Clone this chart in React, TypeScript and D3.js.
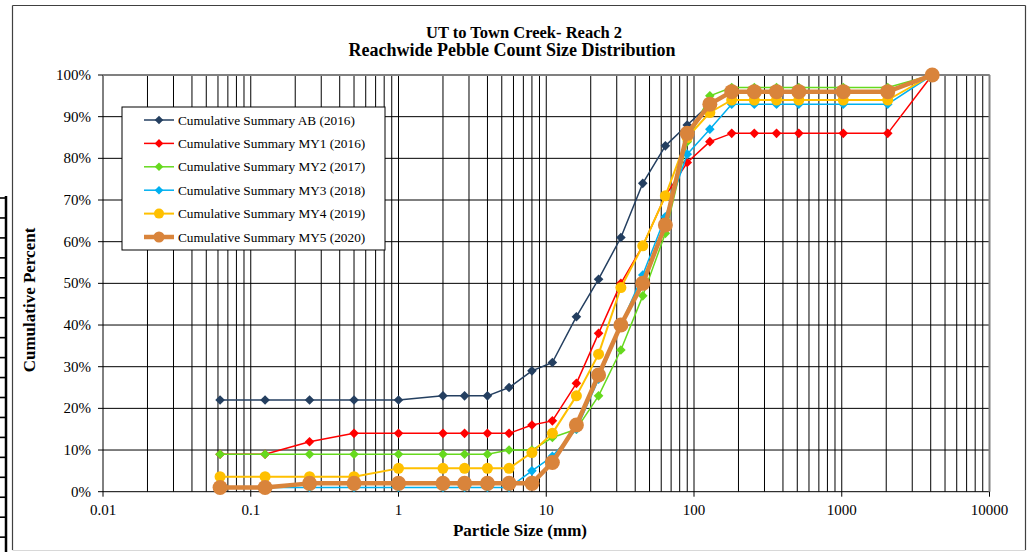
import React from "react";
import * as d3 from "d3";

const sizes = [0.062, 0.125, 0.25, 0.5, 1, 2, 2.8, 4, 5.6, 8, 11, 16, 22.6, 32, 45, 64, 90, 128, 180, 256, 362, 512, 1024, 2048, 4096];

const ab = [22, 22, 22, 22, 22, 23, 23, 23, 25, 29, 31, 42, 51, 61, 74, 83, 88, 93, 96, 96, 96, 96, 96, 96, 100];
const my1 = [9, 9, 12, 14, 14, 14, 14, 14, 14, 16, 17, 26, 38, 50, 59, 71, 79, 84, 86, 86, 86, 86, 86, 86, 100];
const my2 = [9, 9, 9, 9, 9, 9, 9, 9, 10, 10, 13, 15, 23, 34, 47, 62, 84, 95, 97, 97, 97, 97, 97, 97, 100];
const my3 = [1, 1, 1, 1, 1, 1, 1, 1, 1, 5, 8.5, 15, 27, 40, 52, 66, 81, 87, 93, 93, 93, 93, 93, 93, 100];
const my4 = [3.6, 3.6, 3.6, 3.6, 5.6, 5.6, 5.6, 5.6, 5.6, 9.4, 14, 23, 33, 49, 59, 71, 85, 91, 94, 94, 94, 94, 94, 94, 100];
const my5 = [1, 1, 2, 2, 2, 2, 2, 2, 2, 2, 7, 16, 28, 40, 50, 64, 86, 93, 96, 96, 96, 96, 96, 96, 100];

const seriesNames = [
  "Cumulative Summary AB (2016)",
  "Cumulative Summary MY1 (2016)",
  "Cumulative Summary MY2 (2017)",
  "Cumulative Summary MY3 (2018)",
  "Cumulative Summary MY4 (2019)",
  "Cumulative Summary MY5 (2020)",
];
const seriesValues = [ab, my1, my2, my3, my4, my5];
const seriesColors = ["#243F60", "#FF0000", "#66D91E", "#00B0F0", "#FFC000", "#D9843B"];
const seriesWidths = [1.5, 1.5, 1.5, 1.5, 2, 4.5];
const seriesMarker = ["diamond", "diamond", "diamond", "diamond", "circle", "circle"];
const markerSize = [4.8, 4.8, 4.8, 4.8, 5.5, 7.5];

const yTicks = [0, 10, 20, 30, 40, 50, 60, 70, 80, 90, 100];
const xMajor = [0.01, 0.1, 1, 10, 100, 1000, 10000];
const xLabels = ["0.01", "0.1", "1", "10", "100", "1000", "10000"];

const title1 = "UT to Town Creek- Reach 2";
const title2 = "Reachwide Pebble Count Size Distribution";

const W = 1030;
const H = 552;
const L = 103, R = 989.5, T = 75, B = 491.7;

export default function App() {
  const x = d3.scaleLog().domain([0.01, 10000]).range([L, R]);
  const y = d3.scaleLinear().domain([0, 100]).range([B, T]);

  const minor: number[] = [];
  for (let e = -2; e < 4; e++) {
    for (let k = 2; k <= 9; k++) minor.push(k * Math.pow(10, e));
  }

  const line = d3
    .line<[number, number]>()
    .x((d) => x(d[0]))
    .y((d) => y(d[1]));

  const font = "'Liberation Serif', 'Times New Roman', serif";

  const marker = (type: string, cx: number, cy: number, s: number, color: string, key: string) =>
    type === "diamond" ? (
      <path
        key={key}
        d={`M${cx},${cy - s}L${cx + s},${cy}L${cx},${cy + s}L${cx - s},${cy}Z`}
        fill={color}
      />
    ) : (
      <circle key={key} cx={cx} cy={cy} r={s} fill={color} />
    );

  const stripTicks: number[] = [];
  for (let i = 0; i < 18; i++) stripTicks.push(198 + i * 19.95);

  const legX = 122, legY = 107, legW = 263, legH = 143, legStep = 23.4;

  return (
    <svg
      width={W}
      height={H}
      style={{ position: "absolute", left: 0, top: 0, background: "#fff" }}
      fontFamily={font}
    >
      <rect x={0} y={0} width={W} height={H} fill="#fff" />
      <line x1={6} x2={6} y1={196} y2={H} stroke="#000" strokeWidth={2.5} />
      {stripTicks.map((t, i) => (
        <line key={i} x1={0} x2={7} y1={t} y2={t} stroke="#000" strokeWidth={1.6} />
      ))}
      <line x1={12.5} x2={1025.5} y1={5.5} y2={5.5} stroke="#404040" strokeWidth={1.2} />
      <line x1={12.5} x2={12.5} y1={5.5} y2={550} stroke="#404040" strokeWidth={1.2} />
      <line x1={1025.5} x2={1025.5} y1={5.5} y2={550} stroke="#404040" strokeWidth={1.2} />
      <line x1={12.5} x2={1025.5} y1={550.5} y2={550.5} stroke="#d8d8d8" strokeWidth={1} />

      <text x={524} y={38} textAnchor="middle" fontWeight="bold" fontSize={16.5}>
        {title1}
      </text>
      <text x={512} y={56} textAnchor="middle" fontWeight="bold" fontSize={18}>
        {title2}
      </text>

      {minor.map((v, i) => (
        <line key={"m" + i} x1={x(v)} x2={x(v)} y1={T} y2={B} stroke="#000" strokeWidth={1} />
      ))}
      {xMajor.map((v, i) => (
        <line key={"M" + i} x1={x(v)} x2={x(v)} y1={T} y2={B + 5} stroke="#000" strokeWidth={1} />
      ))}
      {yTicks.map((v, i) => (
        <line key={"h" + i} x1={L - 5} x2={R} y1={y(v)} y2={y(v)} stroke="#000" strokeWidth={1} />
      ))}
      <line x1={R} x2={R} y1={T} y2={B} stroke="#808080" strokeWidth={2} />
      <line x1={L} x2={R} y1={T} y2={T} stroke="#808080" strokeWidth={2} />

      {yTicks.map((v, i) => (
        <text key={"yl" + i} x={91} y={y(v) + 5} textAnchor="end" fontSize={15}>
          {v + "%"}
        </text>
      ))}
      {xMajor.map((v, i) => (
        <text key={"xl" + i} x={x(v)} y={515} textAnchor="middle" fontSize={15}>
          {xLabels[i]}
        </text>
      ))}

      <text x={520} y={536} textAnchor="middle" fontWeight="bold" fontSize={17}>
        Particle Size (mm)
      </text>
      <text
        transform={`translate(35,300) rotate(-90)`}
        textAnchor="middle"
        fontWeight="bold"
        fontSize={17}
      >
        Cumulative Percent
      </text>

      {seriesValues.map((vals, si) => {
        const pts = sizes.map((s, i) => [s, vals[i]] as [number, number]);
        return (
          <g key={"s" + si}>
            <path
              d={line(pts) || ""}
              fill="none"
              stroke={seriesColors[si]}
              strokeWidth={seriesWidths[si]}
              strokeLinejoin="round"
            />
            {pts.map((p, i) =>
              marker(seriesMarker[si], x(p[0]), y(p[1]), markerSize[si], seriesColors[si], "p" + i)
            )}
          </g>
        );
      })}

      <rect x={legX} y={legY} width={legW} height={legH} fill="#fff" stroke="#000" strokeWidth={1} />
      {seriesNames.map((n, i) => {
        const cy = legY + 13 + i * legStep;
        return (
          <g key={"lg" + i}>
            <line x1={144} x2={174} y1={cy} y2={cy} stroke={seriesColors[i]} strokeWidth={seriesWidths[i]} />
            {marker(seriesMarker[i], 159, cy, i === 5 ? 5.5 : markerSize[i] - 0.5, seriesColors[i], "lm" + i)}
            <text x={178} y={cy + 4.5} fontSize={13.3}>
              {n}
            </text>
          </g>
        );
      })}
    </svg>
  );
}
